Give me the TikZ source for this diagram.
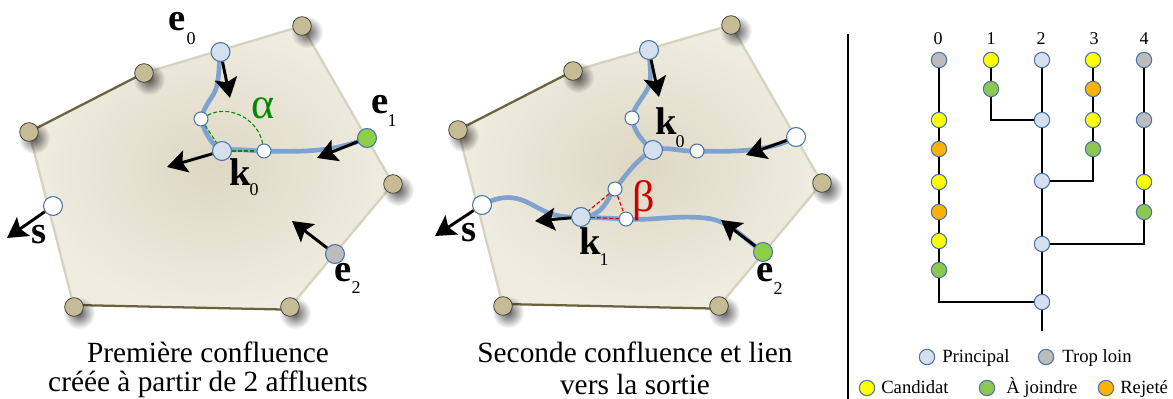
\documentclass[tikz,border=0pt]{standalone}
\usepackage{fontspec}
\setmainfont{Liberation Serif}
\usetikzlibrary{arrows.meta,backgrounds,fadings}
\definecolor{vtxfill}{HTML}{C5BB94}
\definecolor{polyedge}{HTML}{D6D2BE}
\definecolor{polydark}{HTML}{6B6340}
\definecolor{polyin}{HTML}{DED7C3}
\definecolor{polyout}{HTML}{EFEDE1}
\definecolor{princ}{HTML}{D5E0EE}
\definecolor{nodeedge}{HTML}{4A74A8}
\definecolor{flowblue}{HTML}{7FA3CF}
\definecolor{okgreen}{HTML}{8CD04A}
\definecolor{treegreen}{HTML}{8CC850}
\definecolor{far}{HTML}{BCBCBC}
\definecolor{cand}{HTML}{FFFF00}
\definecolor{rej}{HTML}{FFB300}
\definecolor{alphag}{HTML}{008A00}
\definecolor{betar}{HTML}{CC0000}
\tikzfading[name=softdisc, inner color=transparent!35, outer color=transparent!100]
\tikzset{
  x=0.75pt,y=-0.75pt,
  ptn/.style={circle,inner sep=0pt,draw=nodeedge,line width=0.8pt},
  vtx/.style={circle,inner sep=0pt,minimum size=14pt,draw=black!75,line width=0.6pt,fill=vtxfill},
  bign/.style={ptn,minimum size=14.2pt,fill=princ},
  bigw/.style={ptn,minimum size=14.2pt,fill=white},
  bigg/.style={ptn,minimum size=14.2pt,fill=okgreen},
  bigf/.style={ptn,minimum size=14.2pt,fill=far},
  smalln/.style={ptn,minimum size=10.5pt,fill=white},
  tn/.style={ptn,minimum size=11.5pt},
  flow/.style={draw=flowblue,line width=3.5pt},
  edgel/.style={draw=polyedge,line width=1.7pt},
  edged/.style={draw=polydark,line width=1.7pt},
  arr/.style={draw=black,line width=2.2pt,-{Stealth[length=15pt,width=17pt,inset=3pt]}},
  treeline/.style={draw=black,line width=1.5pt},
  lab/.style={inner sep=0pt,font=\fontsize{29}{29}\selectfont\bfseries},
  subl/.style={inner sep=0pt,font=\fontsize{13.5}{14}\selectfont},
  captxt/.style={inner sep=0pt,font=\fontsize{22}{24}\selectfont},
  leg/.style={inner sep=0pt,anchor=base west,font=\fontsize{14}{16}\selectfont},
  numl/.style={inner sep=0pt,font=\fontsize{13.5}{14}\selectfont},
  greek/.style={inner sep=0pt,font=\fontsize{33}{33}\selectfont},
  dashg/.style={draw=alphag,line width=0.8pt,dash pattern=on 3pt off 1.6pt},
  dashr/.style={draw=betar,line width=0.8pt,dash pattern=on 3pt off 1.6pt},
}
\newcommand{\softshadow}[1]{\fill[black,path fading=softdisc] ([shift={(5,6)}]#1.center) circle (12pt);}
\begin{document}
\begin{tikzpicture}
\useasboundingbox (0,0) rectangle (1173,399);
% ---------- left polygon
\node[vtx] (v0) at (144,73) {};
\node[vtx] (v1) at (302,26) {};
\node[vtx] (v2) at (393,184) {};
\node[vtx] (v3) at (290,307) {};
\node[vtx] (v4) at (74,307) {};
\node[vtx] (v5) at (29,132) {};
\node[bign] (le0) at (220.5,52) {};
\node[smalln] (la) at (201,119) {};
\node[bign] (lk0) at (222,151) {};
\node[smalln] (lb) at (264,151) {};
\node[bigg] (le1) at (367,138) {};
\node[bigf] (le2) at (335,254) {};
\node[bigw] (ls) at (53,206) {};
\coordinate (le0t) at (230,98);
\coordinate (lk0t) at (167,167);
\coordinate (le1t) at (317,158);
\coordinate (le2t) at (292,221);
\coordinate (lst) at (7,238);
% ---------- right polygon
\node[vtx] (w0) at (573,71) {};
\node[vtx] (w1) at (731,25) {};
\node[vtx] (w2) at (822,183) {};
\node[vtx] (w3) at (719,306) {};
\node[vtx] (w4) at (503,306) {};
\node[vtx] (w5) at (458,130) {};
\node[bign] (re0) at (649,50) {};
\node[smalln] (ra) at (632,118) {};
\node[bign] (rk0) at (653,150) {};
\node[smalln] (rb) at (697,151) {};
\node[bigw] (re1) at (796,137) {};
\node[smalln] (rc) at (615,189) {};
\node[smalln] (rd) at (626,219) {};
\node[bign] (rk1) at (581,217) {};
\node[bigg] (re2) at (763,252) {};
\node[bigw] (rs) at (482,205) {};
\coordinate (re0t) at (659,97);
\coordinate (re1t) at (746,155);
\coordinate (re2t) at (721,220);
\coordinate (rk1t) at (535,221);
\coordinate (rst) at (435,236);
\begin{pgfonlayer}{background}
  \shade[inner color=polyin,outer color=polyout]
    (v0.center)--(v1.center)--(v2.center)--([yshift=-2pt]v3.center)--([yshift=1.5pt]v4.center)--(v5.center)--cycle;
  \draw[edgel] (v0.center)--(v1.center)--(v2.center)--(v3.center);
  \draw[edgel] (v4.center)--(v5.center);
  \draw[edged] (v5.center)--(v0.center);
  \draw[edged] ([yshift=-2pt]v3.center)--([yshift=1.5pt]v4.center);
  \shade[inner color=polyin,outer color=polyout]
    (w0.center)--(w1.center)--(w2.center)--([yshift=-2pt]w3.center)--([yshift=1.5pt]w4.center)--(w5.center)--cycle;
  \draw[edgel] (w0.center)--(w1.center)--(w2.center)--(w3.center);
  \draw[edgel] (w4.center)--(w5.center);
  \draw[edged] (w5.center)--(w0.center);
  \draw[edged] ([yshift=-2pt]w3.center)--([yshift=1.5pt]w4.center);
  \softshadow{v0}\softshadow{v1}\softshadow{v2}\softshadow{v3}\softshadow{v4}\softshadow{v5}
  \softshadow{w0}\softshadow{w1}\softshadow{w2}\softshadow{w3}\softshadow{w4}\softshadow{w5}
  % left flows
  \draw[flow] (le0.center) .. controls (218,70) and (220,84) .. (213,95) .. controls (208,103) and (203,110) .. (la.center);
  \draw[flow] (la.center) .. controls (204,132) and (212,145) .. (lk0.center);
  \draw[flow] (lk0.center) .. controls (235,148) and (250,151) .. (lb.center) .. controls (300,152) and (335,152) .. (le1.center);
  % right flows
  \draw[flow] (re0.center) .. controls (650,68) and (652,78) .. (648,88) .. controls (643,98) and (634,106) .. (ra.center);
  \draw[flow] (ra.center) .. controls (634,132) and (643,142) .. (rk0.center);
  \draw[flow] (rk0.center) .. controls (668,146) and (680,152) .. (rb.center) .. controls (730,152) and (770,152) .. (re1.center);
  \draw[flow] (rk0.center) .. controls (636,160) and (626,175) .. (rc.center) .. controls (606,200) and (604,216) .. (rk1.center);
  \draw[flow] (rk1.center) -- (rd.center) .. controls (650,221) and (675,215) .. (705,218) .. controls (730,220) and (745,240) .. (re2.center);
  \draw[flow] (rk1.center) .. controls (562,218) and (552,215) .. (540,209) .. controls (525,201) and (510,190) .. (rs.center);
\end{pgfonlayer}
% arrows
\foreach \a/\b in {le0/le0t,lk0/lk0t,le1/le1t,le2/le2t,ls/lst,re0/re0t,re1/re1t,re2/re2t,rk1/rk1t,rs/rst}
  \draw[arr] (\a) -- (\b);
% dashed angles
\draw[dashg] (la) .. controls (228,104) and (258,118) .. (lb);
\draw[dashg] (la) -- (lk0);
\draw[dashg] (lk0) -- (lb);
\draw[dashr] (rc) -- (rk1);
\draw[dashr] (rc) -- (rd);
\draw[dashr] (rk1) -- (rd);
% labels left
\node[lab] (te0) at (177,22) {e};
\node[subl] (te0s) at (191,39) {0};
\node[lab] (te1) at (380,105) {e};
\node[subl] (te1s) at (392,121) {1};
\node[lab] (tk0) at (240,172) {k};
\node[subl] (tk0s) at (254,190) {0};
\node[lab] (te2) at (343,273) {e};
\node[subl] (te2s) at (356,288) {2};
\node[lab] (tsl) at (39,235) {s};
\node[greek,text=alphag] (talpha) at (263,108) {α};
% labels right
\node[lab] (uk0) at (666,121) {k};
\node[subl] (uk0s) at (680,142) {0};
\node[lab] (uk1) at (590,241) {k};
\node[subl] (uk1s) at (604,260) {1};
\node[lab] (ue2) at (765,273) {e};
\node[subl] (ue2s) at (778,289) {2};
\node[lab] (usr) at (469,233) {s};
\node[greek,text=betar] (ubeta) at (644,201) {β};
% captions
\node[captxt] (c1) at (208,352) {Première confluence};
\node[captxt] (c2) at (208,384) {créée à partir de 2 affluents};
\node[captxt] (c3) at (635,352) {Seconde confluence et lien};
\node[captxt] (c4) at (635,384) {vers la sortie};
% separator
\coordinate (sepa) at (848,34);
\coordinate (sepb) at (848,399);
\draw[black,line width=0.9pt] (sepa) -- (sepb);
% tree
\node[numl] (n0) at (938,39) {0};
\node[numl] (n1) at (991,39) {1};
\node[numl] (n2) at (1041,39) {2};
\node[numl] (n3) at (1094,39) {3};
\node[numl] (n4) at (1144,39) {4};
\foreach \nm/\x/\y/\c in {
  a0/939/60/far,a1/939/120/cand,a2/939/149/rej,a3/939/182/cand,a4/939/212/rej,a5/939/241/cand,a6/939/270/treegreen,
  b0/991/60/cand,b1/991/89/treegreen,
  m0/1042/60/princ,m1/1042/120/princ,m2/1042/181/princ,m3/1042/244/princ,m4/1042/302/princ,
  d0/1093/60/cand,d1/1093/89/rej,d2/1093/120/cand,d3/1093/149/treegreen,
  f0/1144/60/far,f1/1144/120/far,f2/1144/182/cand,f3/1144/212/treegreen}
  \node[tn,fill=\c] (\nm) at (\x,\y) {};
\coordinate (mend) at (1042,331);
\begin{pgfonlayer}{background}
  \draw[treeline] (a0.center)--(a6.center);
  \draw[treeline] (b0.center)--(b1.center);
  \draw[treeline] (m0.center)--(mend);
  \draw[treeline] (d0.center)--(d3.center);
  \draw[treeline] (f0.center)--(f3.center);
  \draw[treeline] (b1.center) |- (m1.center);
  \draw[treeline] (d3.center) |- (m2.center);
  \draw[treeline] (f3.center) |- (m3.center);
  \draw[treeline] (a6.center) |- (m4.center);
\end{pgfonlayer}
% legend
\node[tn,fill=princ] (l1) at (927,357) {};
\node[leg] (l1t) at (942,362) {Principal};
\node[tn,fill=far] (l2) at (1046,357) {};
\node[leg] (l2t) at (1062,362) {Trop loin};
\node[tn,fill=cand] (l3) at (867,388) {};
\node[leg] (l3t) at (881,393) {Candidat};
\node[tn,fill=treegreen] (l4) at (987,388) {};
\node[leg] (l4t) at (1006,393) {À joindre};
\node[tn,fill=rej] (l5) at (1106,388) {};
\node[leg] (l5t) at (1120,393) {Rejeté};
\end{tikzpicture}
\end{document}
